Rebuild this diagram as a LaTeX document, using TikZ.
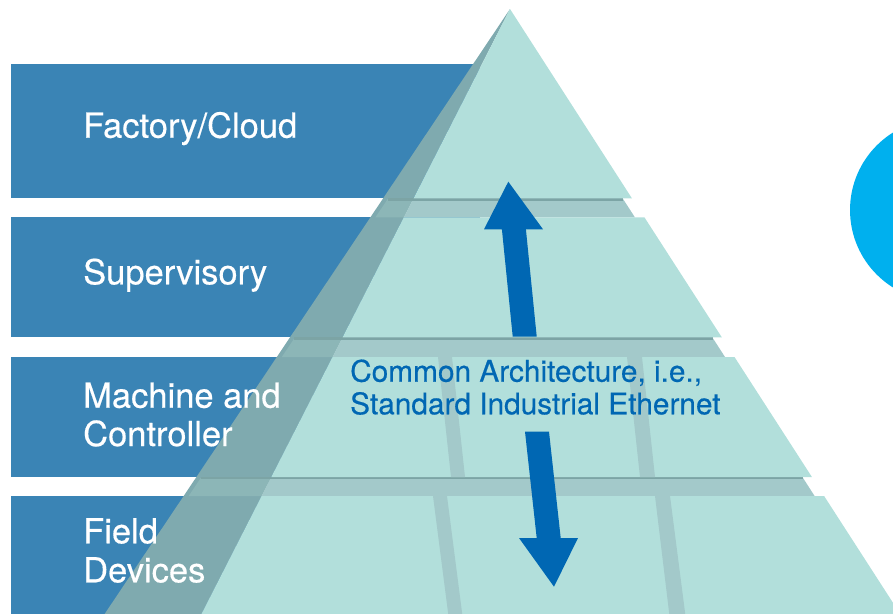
\documentclass[tikz,border=0pt]{standalone}
\usepackage{fontspec}
\setmainfont{TeX Gyre Heros}[FakeBold=0.4]
\definecolor{bandblue}{HTML}{3A84B5}
\definecolor{layerteal}{HTML}{B2DFDB}
\definecolor{faceteal}{HTML}{7FAAAF}
\definecolor{shelfteal}{HTML}{A3C9CA}
\definecolor{shelfdark}{HTML}{8CB6B7}
\definecolor{shadowteal}{HTML}{7CA4A5}
\definecolor{arrowblue}{HTML}{0067B3}
\definecolor{cyanball}{HTML}{00B0EE}
\tikzset{
  bandbox/.style={fill=bandblue, draw=none},
  layer/.style={fill=layerteal, draw=none},
  shelfpart/.style={fill=shelfteal, draw=none},
  shelfleft/.style={fill=shelfdark, draw=none},
  shelfshadow/.style={draw=shadowteal, line width=2.5pt},
  divider/.style={fill=shelfteal, draw=none},
  bigarrow/.style={fill=arrowblue, draw=none},
  lbl/.style={text=white, inner sep=0pt, anchor=base west, font=\fontsize{34.5}{40}\selectfont},
  common/.style={text=arrowblue, inner sep=0pt, anchor=base west, font=\fontsize{29.8}{34}\selectfont}
}
\begin{document}
\begin{tikzpicture}[x=1pt, y=-1pt]
\useasboundingbox (0,0) rectangle (893,613);
\clip (0,0) rectangle (893,613);
% blue level bands
\fill[bandblue] (11,64) rectangle (480,198.3);
\fill[bandblue] (11,217.3) rectangle (480,337.3);
\fill[bandblue] (11,356.7) rectangle (480,477);
\fill[bandblue] (11,496) rectangle (480,620);
% left face of pyramid
\fill[faceteal] (510,9) -- (100.6,620) -- (198.4,620) -- cycle;
% shelves between layers
\fill[shelfleft] (388.2,198.3) -- (413.5,198.3) -- (403.8,217.3) -- (375.4,217.3) -- cycle;
\fill[shelfpart] (413.5,198.3) -- (622.6,198.3) -- (634.9,217.3) -- (403.8,217.3) -- cycle;
\draw[shelfshadow] (388.2,199.5) -- (623.4,199.5);
\fill[shelfleft] (295,337.3) -- (342.6,337.3) -- (332.5,357) -- (281.8,357) -- cycle;
\fill[shelfpart] (342.6,337.3) -- (712.3,337.3) -- (725,357) -- (332.5,357) -- cycle;
\draw[shelfshadow] (294.2,338.5) -- (713.1,338.5);
\fill[shelfleft] (201.4,477) -- (271.3,477) -- (261.6,496) -- (188.7,496) -- cycle;
\fill[shelfpart] (271.3,477) -- (802.4,477) -- (814.6,496) -- (261.6,496) -- cycle;
\draw[shelfshadow] (200.6,478.2) -- (803.2,478.2);
% pyramid layers
\fill[layerteal] (510,9) -- (631.9,198.3) -- (413.6,198.3) -- cycle;
\fill[layerteal] (403.8,217.3) -- (644.4,217.3) -- (721.8,337.3) -- (342.6,337.3) -- cycle;
\fill[layerteal] (332.5,357) -- (734.5,357) -- (811.9,477) -- (271.3,477) -- cycle;
\fill[layerteal] (261.6,496) -- (824.1,496) -- (904.1,620) -- (198.4,620) -- cycle;
% dividers
\fill[divider] (438,357) -- (452,357) -- (465,477) -- (451,477) -- cycle;
\fill[divider] (627,357) -- (642,357) -- (655,477) -- (640,477) -- cycle;
\fill[divider] (433,496) -- (447,496) -- (463,620) -- (449,620) -- cycle;
\fill[divider] (655,496) -- (670,496) -- (686,620) -- (670,620) -- cycle;
% arrows
\fill[bigarrow] (512.7,336.5) -- (536.7,336.5) -- (525.9,229.3) -- (543,229.3) -- (508.3,181.7) -- (484,229.3) -- (501.9,229.3) -- cycle;
\fill[bigarrow] (525,431.7) -- (549,431.7) -- (560.7,538) -- (578,538) -- (554,586.7) -- (519,538) -- (536.7,538) -- cycle;
% cyan ball
\fill[cyanball] (941.3,210) circle[radius=91.3];
% labels
\node[lbl] (fc) at (83,137.7) {Factory/Cloud};
\node[lbl] (sv) at (83,284.3) {Supervisory};
\node[lbl] (mc1) at (83,407.7) {Machine and};
\node[lbl] (mc2) at (83,446) {Controller};
\node[lbl] (fd1) at (83,543.3) {Field};
\node[lbl] (fd2) at (83,582.3) {Devices};
\node[common] (ca1) at (350,381.7) {Common Architecture, i.e.,};
\node[common] (ca2) at (350,414.3) {Standard Industrial Ethernet};
\end{tikzpicture}
\end{document}
